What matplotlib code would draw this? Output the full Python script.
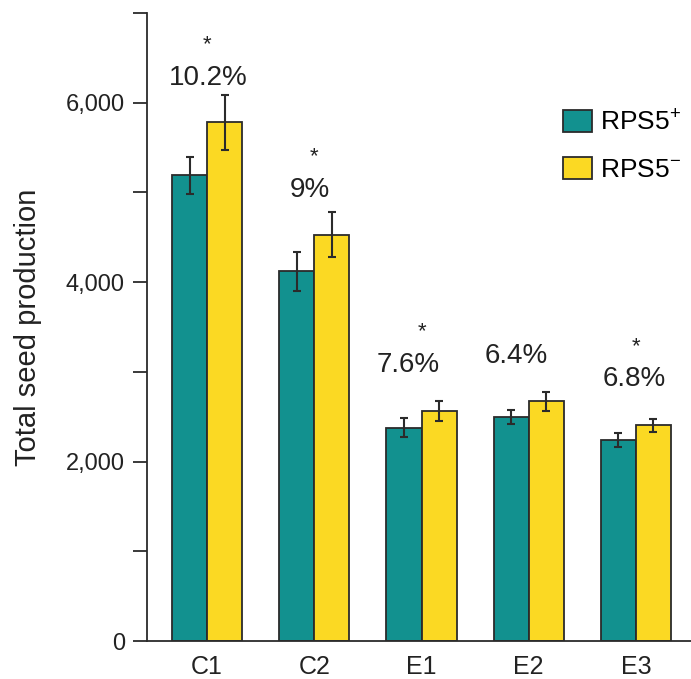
import numpy as np
import matplotlib.pyplot as plt
from matplotlib.patches import Patch

plt.rcParams['font.family'] = ['Liberation Sans', 'DejaVu Sans']
plt.rcParams['mathtext.fontset'] = 'custom'
plt.rcParams['mathtext.rm'] = 'Liberation Sans'

groups = ['C1', 'C2', 'E1', 'E2', 'E3']
plus_vals = [5190, 4120, 2376, 2500, 2240]
plus_err = [210, 215, 105, 77, 76]
minus_vals = [5780, 4530, 2565, 2670, 2405]
minus_err = [310, 255, 108, 102, 74]
pct_labels = ['10.2%', '9%', '7.6%', '6.4%', '6.8%']
significant = [True, True, True, False, True]

teal = '#12918f'
yellow = '#fbd923'
edge = '#2b2b2b'

fig = plt.figure(figsize=(6.91, 6.79), dpi=100)
ax = fig.add_axes([147/691, 38/679, 544/691, 628/679])

x = np.arange(len(groups))
w = 0.327
err_kw = dict(ecolor=edge, elinewidth=1.5, capsize=3, capthick=1.5)
ax.bar(x - w/2, plus_vals, w, yerr=plus_err, color=teal, edgecolor=edge,
       linewidth=1.3, error_kw=err_kw, zorder=2)
ax.bar(x + w/2, minus_vals, w, yerr=minus_err, color=yellow, edgecolor=edge,
       linewidth=1.3, error_kw=err_kw, zorder=2)

# percentage labels and stars above each group
pct_x = [0.01, 0.96, 1.88, 2.88, 3.98]
pct_y = [6280, 5025, 3075, 3175, 2915]
for i in range(len(groups)):
    ax.text(pct_x[i], pct_y[i], pct_labels[i], ha='center', va='center',
            fontsize=20, color='#222222')
    if significant[i]:
        ax.text(x[i], pct_y[i] + 370, '*', ha='center', va='center',
                fontsize=16, color='#222222')

ax.set_xlim(-0.561, 4.514)
ax.set_ylim(0, 7000)
ax.set_yticks(np.arange(0, 7001, 1000))
ax.set_yticklabels(['0', '', '2,000', '', '4,000', '', '6,000', ''])
ax.set_xticks(x)
ax.set_xticklabels(groups)
ax.tick_params(axis='y', length=10, width=1.3, color=edge, labelsize=17,
               pad=6, labelcolor='#222222')
ax.tick_params(axis='x', length=0, labelsize=18, pad=10, labelcolor='#222222')
ax.set_ylabel('Total seed production', fontsize=21, color='#222222', labelpad=17)

for s in ['top', 'right']:
    ax.spines[s].set_visible(False)
for s in ['left', 'bottom']:
    ax.spines[s].set_linewidth(1.3)
    ax.spines[s].set_color(edge)

handles = [Patch(facecolor=teal, edgecolor=edge, linewidth=1.3),
           Patch(facecolor=yellow, edgecolor=edge, linewidth=1.3)]
fig.legend(handles, ['RPS5$^{+}$', 'RPS5$^{-}$'], loc='upper left',
           bbox_to_anchor=(563/691, 1 - 109/679), frameon=False, fontsize=19,
           handlelength=1.1, handleheight=0.9, handletextpad=0.3,
           labelspacing=0.85, borderpad=0, borderaxespad=0)

fig.savefig('out.png', dpi=100)
